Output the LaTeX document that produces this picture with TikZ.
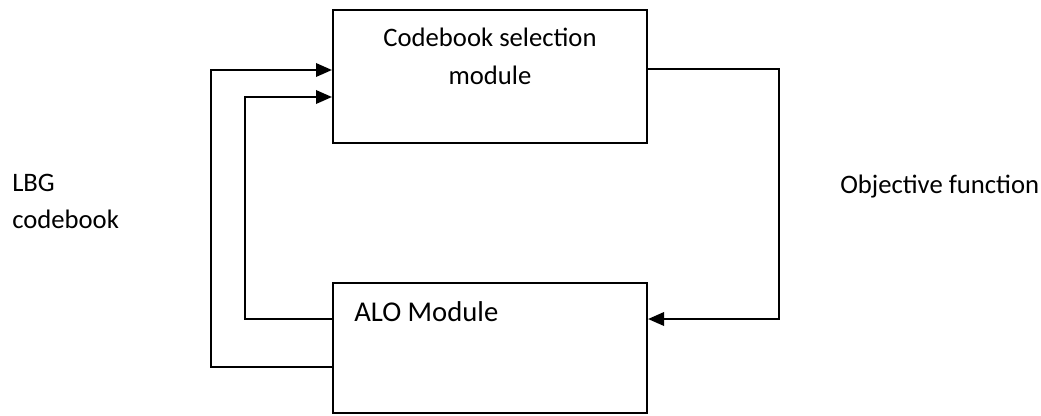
\documentclass[tikz,border=0pt]{standalone}
\usepackage{fontspec}
\setmainfont{Carlito}
\usetikzlibrary{arrows.meta,positioning,calc}

\begin{document}
\begin{tikzpicture}[x=0.75pt, y=-0.75pt, >={Triangle[length=12pt,width=10pt]},
    box/.style={draw, line width=1.5pt, minimum width=314*0.75pt, inner sep=0pt},
    link/.style={->, line width=1.8pt},
    txt/.style={inner sep=0pt, font=\fontsize{20}{28.5}\selectfont}]
      \useasboundingbox (0,0) rectangle (1041,415);
      \node[box, minimum height=133*0.75pt] (sel) at (490,76.5) {};
      \node[box, minimum height=130*0.75pt] (alo) at (490,348) {};
      \node[txt, align=center, anchor=base] (seltext) at ($(sel.north)+(0,75.6)$) {Codebook selection\\module};
      \node[txt, anchor=base west, font=\fontsize{21.5}{26}\selectfont] (alotext) at ($(alo.north west)+(22,39)$) {ALO Module};
      \node[txt, anchor=base west] (obj) at (840,193.5) {Objective function};
      \node[txt, anchor=base west, align=left, font=\fontsize{20}{27.75}\selectfont] (lbg) at (12,228.5) {LBG\\codebook};
      % feedback from the ALO module
      \draw[link] ($(alo.west)+(0,19)$) -- ++(-121,0) |- ($(sel.west)+(0,-6.5)$);
      \draw[link] ($(alo.west)+(0,-29)$) -- ++(-87,0) |- ($(sel.west)+(0,20.5)$);
      \draw[link] ($(sel.east)+(0,-7.5)$) -- ++(131,0) |- ($(alo.east)+(0,-29)$);
    \end{tikzpicture}
\end{document}
